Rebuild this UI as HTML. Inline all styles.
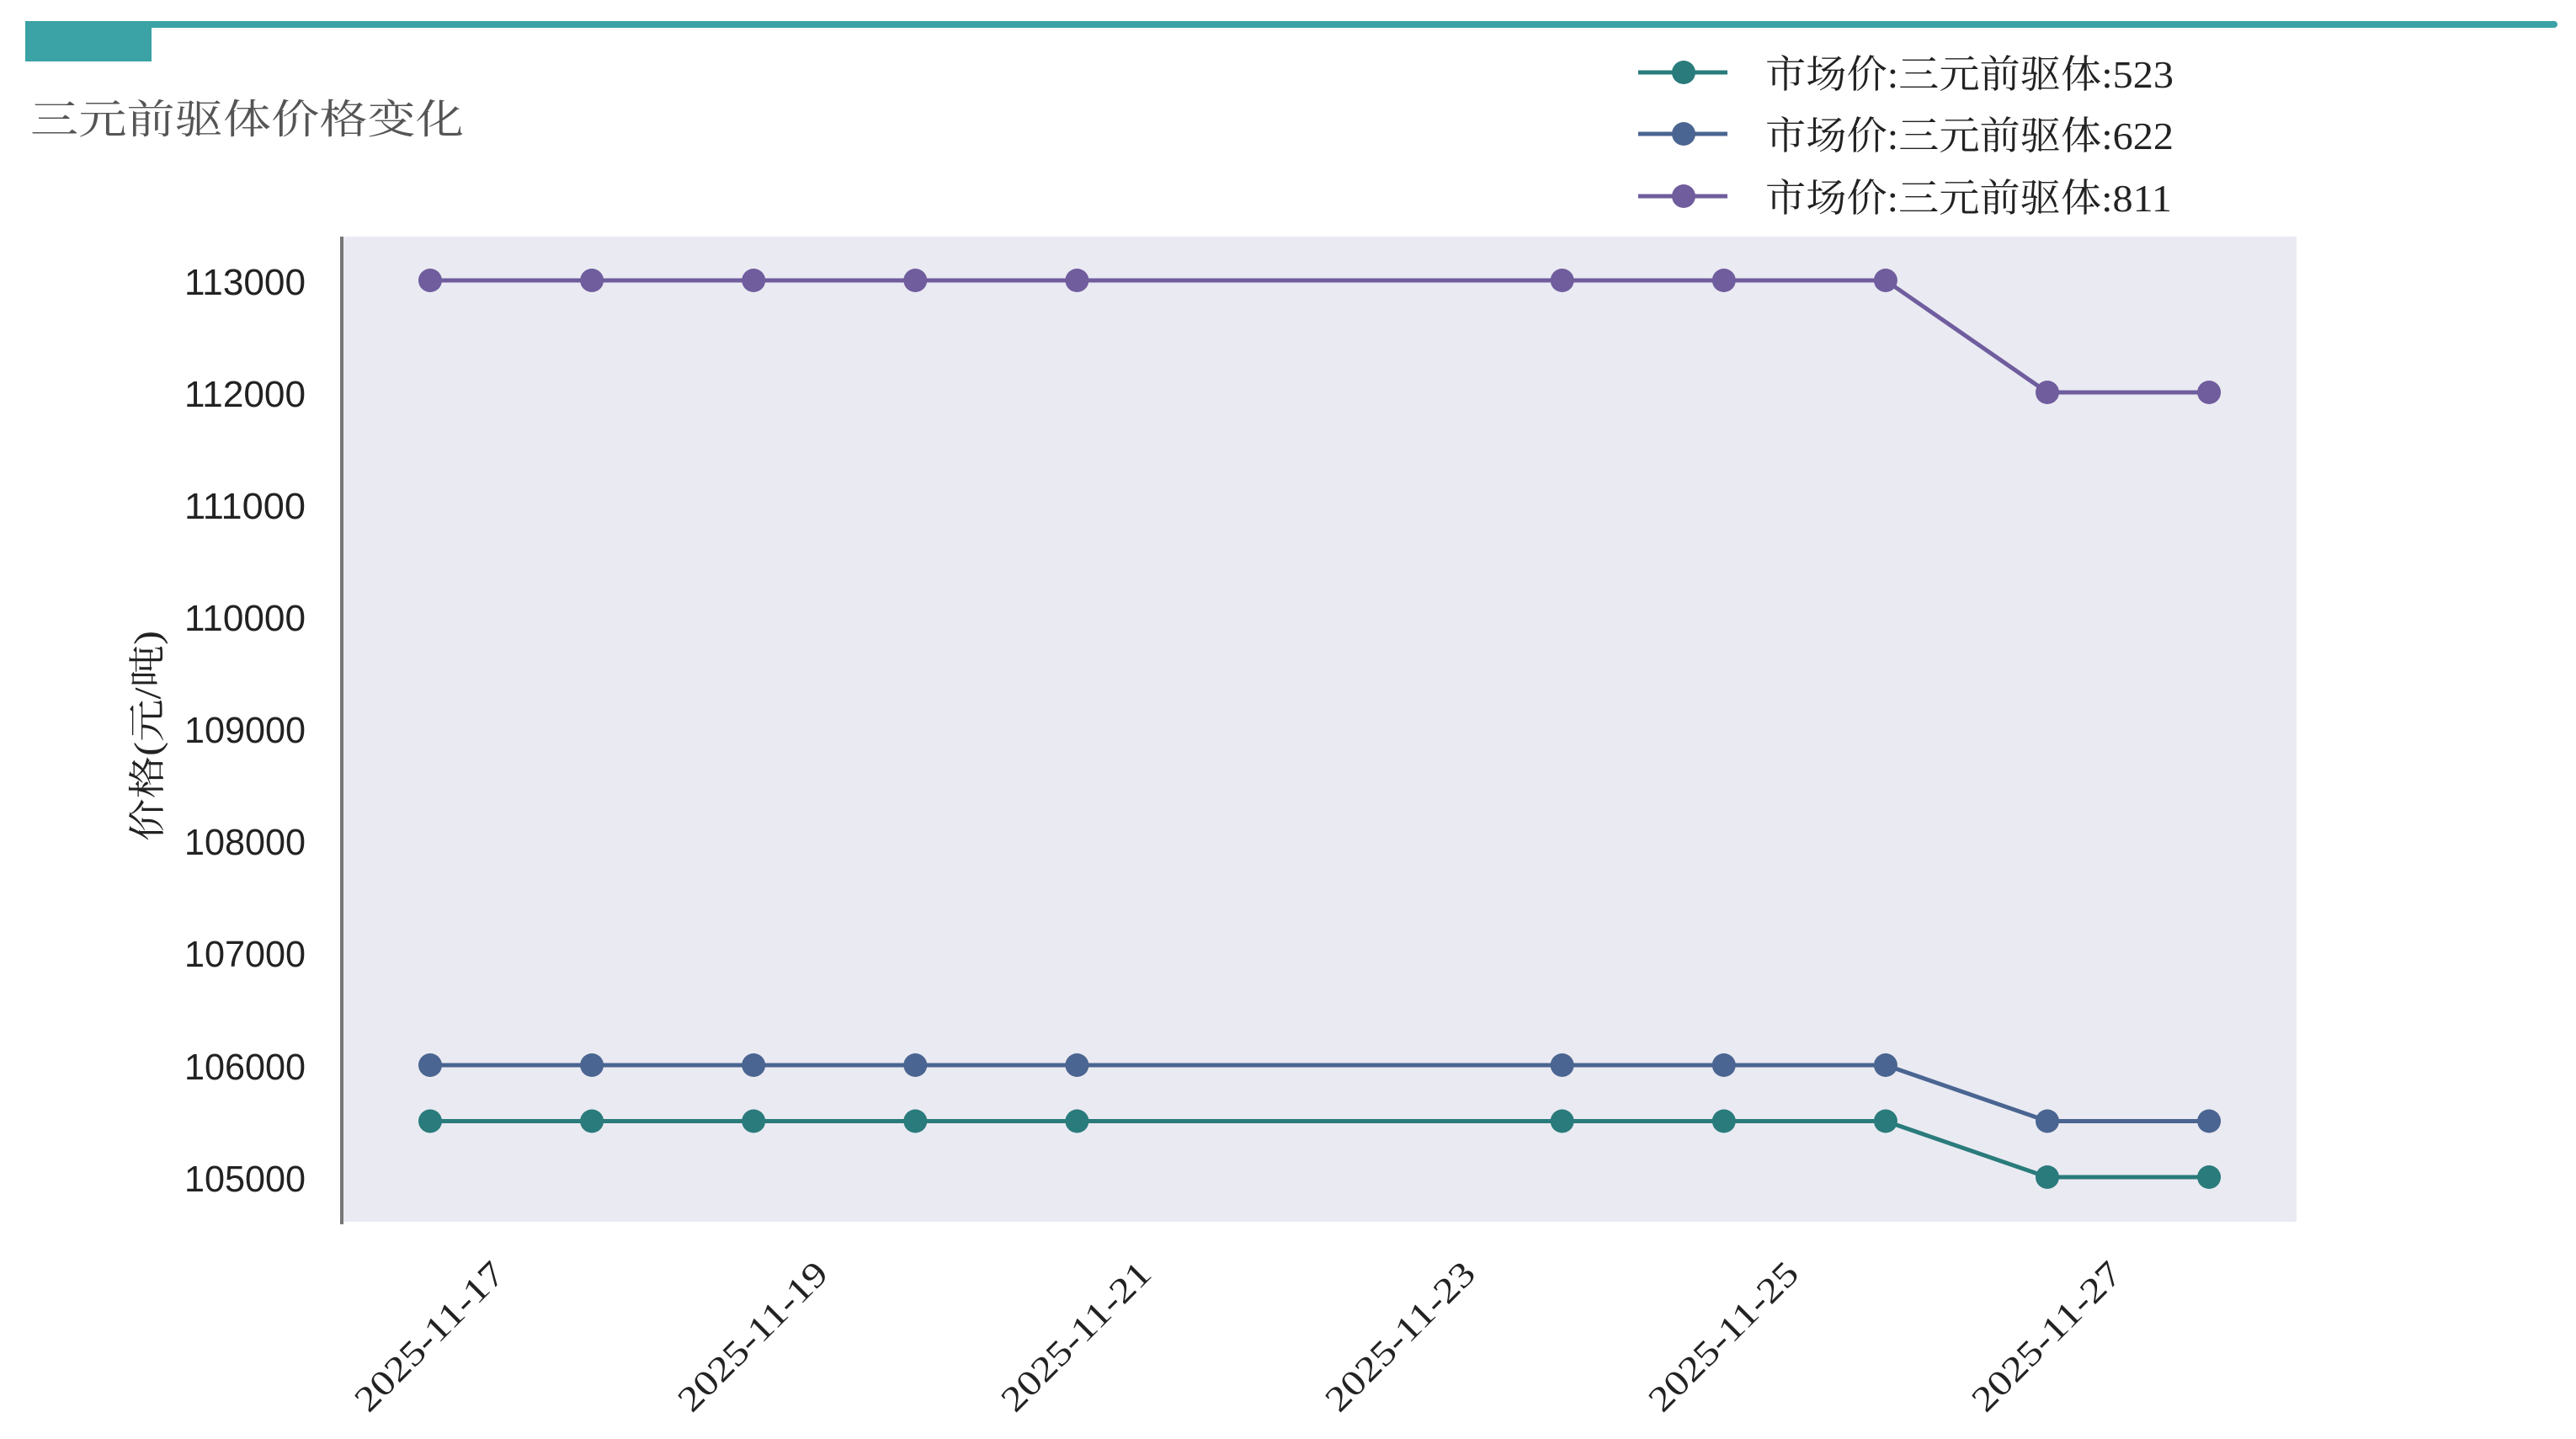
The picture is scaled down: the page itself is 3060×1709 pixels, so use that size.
<!DOCTYPE html>
<html><head><meta charset="utf-8"><style>
html,body{margin:0;padding:0;background:#fff;width:3060px;height:1709px;overflow:hidden}
svg{display:block}
</style></head><body>
<svg width="3060" height="1709" viewBox="0 0 3060 1709" xmlns="http://www.w3.org/2000/svg">
<rect x="30" y="25" width="3008" height="8" rx="4" fill="#3ba3a5"/>
<rect x="30" y="25" width="150" height="48" fill="#3ba3a5"/>
<text x="36" y="158" font-family="'Liberation Serif','Noto Serif CJK SC',serif" font-size="48" fill="#555" textLength="515" lengthAdjust="spacingAndGlyphs">三元前驱体价格变化</text>

<rect x="407" y="281" width="2321" height="1170" fill="#eaeaf2"/>
<line x1="406" y1="281" x2="406" y2="1454" stroke="#777" stroke-width="4"/>

<g font-family="'Liberation Sans',sans-serif" font-size="44" fill="#222" text-anchor="end">
<text x="363" y="350" textLength="144" lengthAdjust="spacingAndGlyphs">113000</text>
<text x="363" y="483" textLength="144" lengthAdjust="spacingAndGlyphs">112000</text>
<text x="363" y="616" textLength="144" lengthAdjust="spacingAndGlyphs">111000</text>
<text x="363" y="749" textLength="144" lengthAdjust="spacingAndGlyphs">110000</text>
<text x="363" y="882" textLength="144" lengthAdjust="spacingAndGlyphs">109000</text>
<text x="363" y="1015" textLength="144" lengthAdjust="spacingAndGlyphs">108000</text>
<text x="363" y="1148" textLength="144" lengthAdjust="spacingAndGlyphs">107000</text>
<text x="363" y="1282" textLength="144" lengthAdjust="spacingAndGlyphs">106000</text>
<text x="363" y="1415" textLength="144" lengthAdjust="spacingAndGlyphs">105000</text>
</g>

<text transform="translate(190,874) rotate(-90)" text-anchor="middle" font-family="'Liberation Serif','Noto Serif CJK SC',serif" font-size="44" fill="#222" textLength="250" lengthAdjust="spacingAndGlyphs">价格(元/吨)</text>

<g font-family="'Liberation Serif',serif" font-size="42" fill="#222" text-anchor="end">
<text transform="translate(602,1515) rotate(-45)" textLength="232" lengthAdjust="spacingAndGlyphs">2025-11-17</text>
<text transform="translate(986,1515) rotate(-45)" textLength="232" lengthAdjust="spacingAndGlyphs">2025-11-19</text>
<text transform="translate(1370,1515) rotate(-45)" textLength="232" lengthAdjust="spacingAndGlyphs">2025-11-21</text>
<text transform="translate(1755,1515) rotate(-45)" textLength="232" lengthAdjust="spacingAndGlyphs">2025-11-23</text>
<text transform="translate(2139,1515) rotate(-45)" textLength="232" lengthAdjust="spacingAndGlyphs">2025-11-25</text>
<text transform="translate(2523,1515) rotate(-45)" textLength="232" lengthAdjust="spacingAndGlyphs">2025-11-27</text>
</g>

<g fill="none" stroke-width="5" stroke-linejoin="round">
<polyline stroke="#6f5d9e" points="511,333 703.1,333 895.2,333 1087.3,333 1279.4,333 1855.7,333 2047.8,333 2239.9,333 2432,466 2624.1,466"/>
<polyline stroke="#4a6591" points="511,1265 703.1,1265 895.2,1265 1087.3,1265 1279.4,1265 1855.7,1265 2047.8,1265 2239.9,1265 2432,1331.5 2624.1,1331.5"/>
<polyline stroke="#2a7b7b" points="511,1331.5 703.1,1331.5 895.2,1331.5 1087.3,1331.5 1279.4,1331.5 1855.7,1331.5 2047.8,1331.5 2239.9,1331.5 2432,1398 2624.1,1398"/>
</g>
<g fill="#6f5d9e">
<circle cx="511" cy="333" r="14"/><circle cx="703.1" cy="333" r="14"/><circle cx="895.2" cy="333" r="14"/><circle cx="1087.3" cy="333" r="14"/><circle cx="1279.4" cy="333" r="14"/><circle cx="1855.7" cy="333" r="14"/><circle cx="2047.8" cy="333" r="14"/><circle cx="2239.9" cy="333" r="14"/><circle cx="2432" cy="466" r="14"/><circle cx="2624.1" cy="466" r="14"/>
</g>
<g fill="#4a6591">
<circle cx="511" cy="1265" r="14"/><circle cx="703.1" cy="1265" r="14"/><circle cx="895.2" cy="1265" r="14"/><circle cx="1087.3" cy="1265" r="14"/><circle cx="1279.4" cy="1265" r="14"/><circle cx="1855.7" cy="1265" r="14"/><circle cx="2047.8" cy="1265" r="14"/><circle cx="2239.9" cy="1265" r="14"/><circle cx="2432" cy="1331.5" r="14"/><circle cx="2624.1" cy="1331.5" r="14"/>
</g>
<g fill="#2a7b7b">
<circle cx="511" cy="1331.5" r="14"/><circle cx="703.1" cy="1331.5" r="14"/><circle cx="895.2" cy="1331.5" r="14"/><circle cx="1087.3" cy="1331.5" r="14"/><circle cx="1279.4" cy="1331.5" r="14"/><circle cx="1855.7" cy="1331.5" r="14"/><circle cx="2047.8" cy="1331.5" r="14"/><circle cx="2239.9" cy="1331.5" r="14"/><circle cx="2432" cy="1398" r="14"/><circle cx="2624.1" cy="1398" r="14"/>
</g>

<g stroke-width="5">
<line x1="1946" y1="86" x2="2052" y2="86" stroke="#2a7b7b"/><circle cx="2000" cy="86" r="14" fill="#2a7b7b"/>
<line x1="1946" y1="159" x2="2052" y2="159" stroke="#4a6591"/><circle cx="2000" cy="159" r="14" fill="#4a6591"/>
<line x1="1946" y1="233" x2="2052" y2="233" stroke="#6f5d9e"/><circle cx="2000" cy="233" r="14" fill="#6f5d9e"/>
</g>
<g font-family="'Liberation Serif','Noto Serif CJK SC',serif" font-size="46" fill="#222">
<text x="2097" y="104" textLength="485" lengthAdjust="spacingAndGlyphs">市场价:三元前驱体:523</text>
<text x="2097" y="177" textLength="485" lengthAdjust="spacingAndGlyphs">市场价:三元前驱体:622</text>
<text x="2097" y="251" textLength="483" lengthAdjust="spacingAndGlyphs">市场价:三元前驱体:811</text>
</g>
</svg>
</body></html>
